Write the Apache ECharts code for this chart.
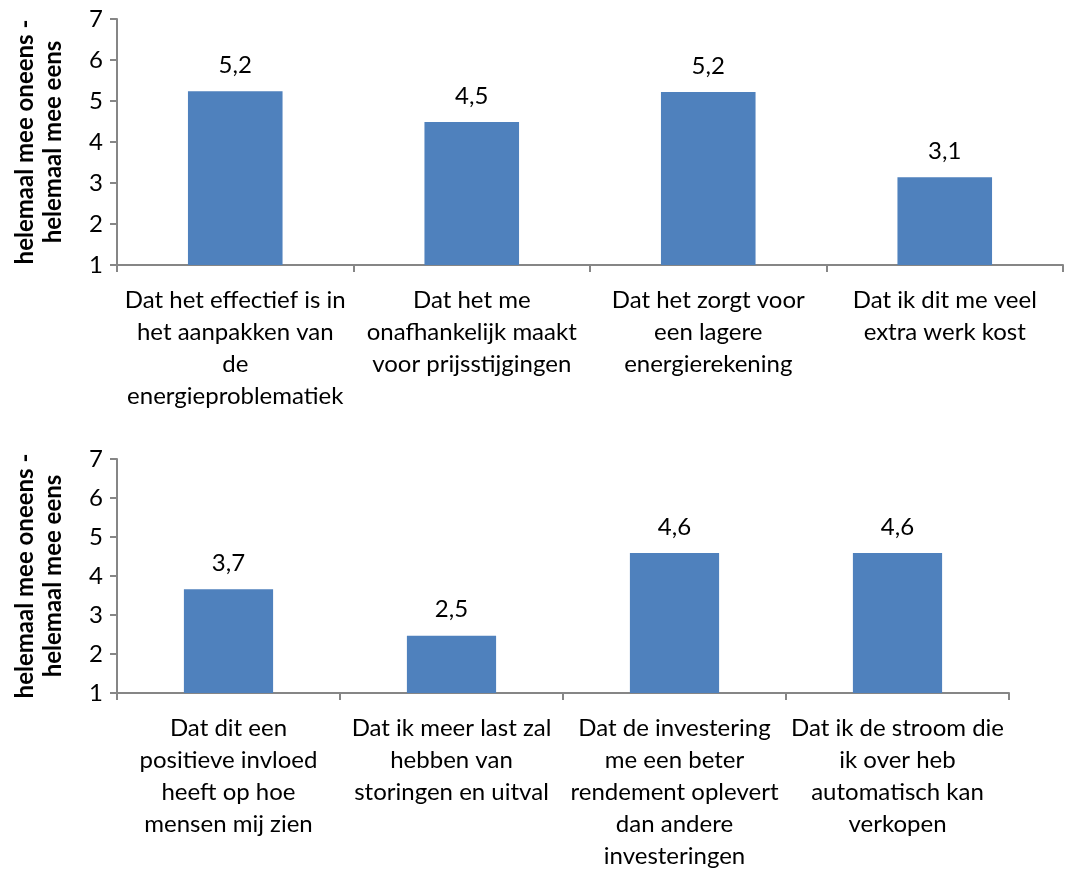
<!DOCTYPE html>
<html><head><meta charset="utf-8">
<script src="https://cdn.jsdelivr.net/npm/echarts@6/dist/echarts.min.js"></script>
<style>html,body{margin:0;padding:0;background:#fff}#c{width:1075px;height:873px}</style>
</head><body><div id="c"></div>
<script>
const categoriesTop = [
  "Dat het effectief is in\nhet aanpakken van\nde\nenergieproblematiek",
  "Dat het me\nonafhankelijk maakt\nvoor prijsstijgingen",
  "Dat het zorgt voor\neen lagere\nenergierekening",
  "Dat ik dit me veel\nextra werk kost"
];
const valuesTop = [5.24, 4.49, 5.22, 3.14];
const categoriesBottom = [
  "Dat dit een\npositieve invloed\nheeft op hoe\nmensen mij zien",
  "Dat ik meer last zal\nhebben van\nstoringen en uitval",
  "Dat de investering\nme een beter\nrendement oplevert\ndan andere\ninvesteringen",
  "Dat ik de stroom die\nik over heb\nautomatisch kan\nverkopen"
];
const valuesBottom = [3.66, 2.47, 4.59, 4.59];
const yTicks = [1, 2, 3, 4, 5, 6, 7];
const yName = "helemaal mee oneens -\nhelemaal mee eens";

const FONT = "Lato, 'Open Sans', sans-serif";
const axisColor = "#868686";

function xAxis(idx, cats) {
  return {
    type: 'category', gridIndex: idx, data: cats,
    axisLine: {lineStyle: {color: axisColor, width: 2}},
    axisTick: {show: true, length: 7, lineStyle: {color: axisColor, width: 2}},
    axisLabel: {interval: 0, color: '#000', fontSize: 24, fontFamily: FONT, lineHeight: 32, margin: 19}
  };
}
function yAxis(idx) {
  return {
    type: 'value', gridIndex: idx, min: yTicks[0], max: yTicks[yTicks.length - 1], interval: 1,
    name: yName, nameLocation: 'middle', nameGap: 50, nameRotate: 90,
    nameTextStyle: {color: '#000', fontSize: 24, fontWeight: 'bold', fontFamily: FONT, lineHeight: 28},
    axisLine: {show: true, lineStyle: {color: axisColor, width: 2}},
    axisTick: {show: true, length: 7, lineStyle: {color: axisColor, width: 2}},
    axisLabel: {color: '#000', fontSize: 24, fontFamily: FONT, margin: 14},
    splitLine: {show: false}
  };
}
function series(idx, vals) {
  return {
    type: 'bar', xAxisIndex: idx, yAxisIndex: idx, data: vals, barWidth: '40%',
    itemStyle: {color: '#4F81BD'},
    label: {show: true, position: 'top', distance: 14, color: '#000', fontSize: 24, fontFamily: FONT,
      formatter: p => p.value.toFixed(1).replace('.', ',')}
  };
}
const chart = echarts.init(document.getElementById('c'));
chart.setOption({
  animation: false,
  grid: [
    {left: 117, top: 19, width: 946, height: 246},
    {left: 117, top: 459, width: 892, height: 234}
  ],
  xAxis: [xAxis(0, categoriesTop), xAxis(1, categoriesBottom)],
  yAxis: [yAxis(0), yAxis(1)],
  series: [series(0, valuesTop), series(1, valuesBottom)]
});
</script></body></html>
